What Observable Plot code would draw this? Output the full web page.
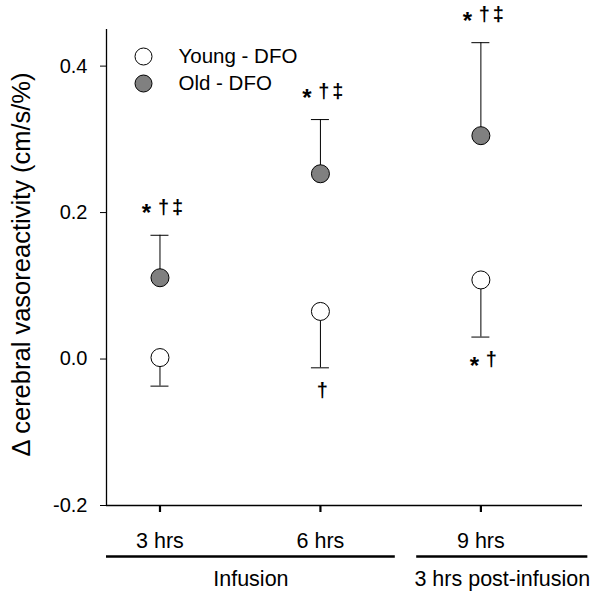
<!DOCTYPE html>
<html>
<head>
<meta charset="utf-8">
<script src="https://cdn.jsdelivr.net/npm/d3@7"></script>
<script src="https://cdn.jsdelivr.net/npm/@observablehq/plot@0.6"></script>
<style>
  html, body { margin: 0; padding: 0; background: #fff; }
  #chart svg { display: block; }
</style>
</head>
<body>
<div id="chart"></div>
<script>
// ---- data ----
const times = [3, 6, 9];
const seriesNames = ["Young - DFO", "Old - DFO"];
const seriesFills = ["white", "#808080"];
const youngMean = [0.002, 0.065, 0.108];
const youngSE   = [0.039, 0.077, 0.078];
const oldMean   = [0.111, 0.253, 0.305];
const oldSE     = [0.058, 0.074, 0.127];
const youngSig  = ["", "†", "* †"];
const oldSig    = ["* † ‡", "* † ‡", "* † ‡"];
const yTicks = [-0.2, 0.0, 0.2, 0.4];
const yDomain = [-0.2, 0.45];
const xDomain = [2, 10.9];
const phaseNames = ["Infusion", "3 hrs post-infusion"];
const phaseFrom  = [2, 7.8];
const phaseTo    = [7.4, 11];
const yLabel = "Δ cerebral vasoreactivity (cm/s/%)";

// ---- tables built from the arrays ----
const young = times.map((t, i) => ({time: t, mean: youngMean[i], end: youngMean[i] - youngSE[i], sig: youngSig[i], dir: -1}));
const old   = times.map((t, i) => ({time: t, mean: oldMean[i], end: oldMean[i] + oldSE[i], sig: oldSig[i], dir: 1}));
const all = young.concat(old);
const phases = phaseNames.map((n, i) => ({name: n, from: phaseFrom[i], to: phaseTo[i], mid: (phaseFrom[i] + phaseTo[i]) / 2}));

// split each significance label into its glyphs, laid out centred on the bar
const glyphs = [];
all.filter(d => d.sig).forEach(d => {
  const parts = d.sig.split(" ");
  const gaps = parts.slice(1).map((p, k) => parts[k] === "*" ? 17 : 14);
  const span = gaps.reduce((a, b) => a + b, 0);
  let off = 2 - span / 2;
  parts.forEach((g, k) => {
    if (k > 0) off += gaps[k - 1];
    glyphs.push({time: d.time, end: d.end, glyph: g, off, dir: d.dir, star: g === "*"});
  });
});

const font = "'Liberation Sans', Arial, Helvetica, sans-serif";

const glyphMarks = glyphs.map(g => Plot.text([g], {
  x: "time", y: "end", text: "glyph",
  dx: g.off,
  dy: (g.dir > 0 ? -28 : 23) + (g.star ? 6.5 : 0),
  lineAnchor: "middle", textAnchor: "middle",
  fontSize: g.star ? 24 : 20, fontWeight: "bold"
}));

const chart = Plot.plot({
  width: 602,
  height: 601,
  marginLeft: 106,
  marginRight: 20,
  marginTop: 29,
  marginBottom: 96,
  style: {fontFamily: font, background: "white", color: "black", overflow: "visible"},
  x: {domain: xDomain},
  y: {domain: yDomain},
  marks: [
    // axis lines
    Plot.ruleX([xDomain[0]], {stroke: "black", strokeWidth: 1.3}),
    Plot.ruleY([yDomain[0]], {stroke: "black", strokeWidth: 1.3}),
    Plot.axisY({ticks: yTicks, tickFormat: d => d.toFixed(1), tickSize: 6, tickPadding: 13, fontSize: 20, label: null, stroke: "black"}),
    Plot.axisX({ticks: times, tickFormat: d => `${d} hrs`, tickSize: 7, tickPadding: 20, fontSize: 21.5, strokeWidth: 2.2, label: null, stroke: "black"}),
    // y label
    Plot.text([yLabel], {text: d => d, frameAnchor: "left", rotate: -90, dx: -85, dy: -3, lineAnchor: "middle", textAnchor: "middle", fontSize: 25.5}),
    // phase grouping lines and labels
    Plot.ruleY(phases, {x1: "from", x2: "to", y: () => yDomain[0], dy: 51, stroke: "black", strokeWidth: 2.6}),
    Plot.text(phases, {x: "mid", y: () => yDomain[0], text: "name", dy: 74, lineAnchor: "middle", fontSize: 21.5}),
    // error bars
    Plot.ruleX(all, {x: "time", y1: "mean", y2: "end", stroke: "black", strokeWidth: 1}),
    Plot.ruleY(all, {x1: "time", x2: "time", y: "end", insetLeft: -9, insetRight: -9, stroke: "black", strokeWidth: 1}),
    // points
    Plot.dot(young, {x: "time", y: "mean", r: 9, fill: seriesFills[0], stroke: "black", strokeWidth: 1}),
    Plot.dot(old, {x: "time", y: "mean", r: 9, fill: seriesFills[1], stroke: "black", strokeWidth: 1}),
    // significance marks
    ...glyphMarks,
    // legend
    ...seriesNames.flatMap((name, i) => [
      Plot.dot([name], {frameAnchor: "top-left", dx: 37, dy: 27 + i * 27, r: 8.5, fill: seriesFills[i], stroke: "black", strokeWidth: 1}),
      Plot.text([name], {text: d => d, frameAnchor: "top-left", dx: 72, dy: 27 + i * 27, textAnchor: "start", lineAnchor: "middle", fontSize: 20.5})
    ])
  ]
});
document.getElementById("chart").appendChild(chart);
</script>
</body>
</html>
